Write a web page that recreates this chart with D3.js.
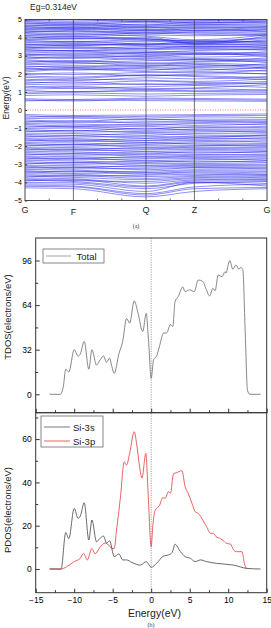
<!DOCTYPE html>
<html><head><meta charset="utf-8">
<style>body{margin:0;background:#fff}svg{display:block;font-family:"Liberation Sans",Arial,sans-serif}</style>
</head><body>
<script src="https://d3js.org/d3.v7.min.js"></script>
<script>
// k-path of the band structure
var kLabels = ["G", "F", "Q", "Z", "G"];
var kPos = [0, 2, 5, 7, 10];
var kMinor = [1, 3, 4, 6, 8, 9];
var bandTicks = [-5, -4, -3, -2, -1, 0, 1, 2, 3, 4, 5];

// band energies (eV) at G, F, Q, Z, G
var condBands = [
  [0.50,0.55,0.52,0.50,0.48],[0.56,0.50,0.60,0.58,0.54],[0.62,0.58,0.66,0.64,0.60],[0.80,0.84,0.76,0.82,0.86],
  [0.90,0.95,0.88,0.92,0.94],[0.98,1.02,1.04,1.03,1.00],[1.08,1.00,1.10,1.06,1.12],[1.15,1.20,1.12,1.18,1.08],
  [1.25,1.30,1.18,1.22,1.40],[1.32,1.22,1.28,1.35,1.25],[1.42,1.38,1.45,1.40,1.50],[1.48,1.55,1.40,1.45,1.58],
  [1.55,1.48,1.60,1.52,1.45],[1.62,1.70,1.65,1.58,1.72],[1.70,1.62,1.78,1.72,1.85],[1.80,1.75,1.92,1.85,1.68],
  [1.88,1.82,1.95,1.90,1.78],[1.95,2.05,1.88,1.98,2.02],[2.02,1.96,2.08,2.12,1.98],[2.10,2.25,2.12,2.05,2.20],
  [2.18,2.30,2.20,2.35,2.28],[2.25,2.35,2.28,2.20,2.38],[2.30,2.20,2.35,2.28,2.15],[2.36,2.45,2.40,2.48,2.32],
  [2.42,2.38,2.50,2.40,2.55],[2.50,2.55,2.60,2.52,2.42],[2.55,2.62,2.45,2.58,2.48],[2.62,2.72,2.58,2.65,2.70],
  [2.70,2.65,2.72,2.80,2.62],[2.76,2.70,2.85,2.78,2.74],[2.82,2.90,2.78,2.70,2.88],[2.88,2.95,2.92,2.85,2.80],
  [2.95,2.85,3.02,2.92,3.00],[3.00,3.05,2.95,3.08,3.10],[3.05,3.12,3.08,3.15,2.95],[3.10,3.02,3.18,3.12,3.05],
  [3.15,3.20,3.10,3.05,3.22],[3.22,3.30,3.25,3.20,3.15],[3.30,3.25,3.18,3.28,3.35],[3.34,3.28,3.42,3.35,3.40],
  [3.38,3.45,3.32,3.40,3.30],[3.44,3.50,3.40,3.52,3.45],[3.48,3.40,3.50,3.45,3.55],[3.52,3.58,3.62,3.58,3.60],
  [3.58,3.62,3.55,3.50,3.48],[3.62,3.68,3.60,3.66,3.58],[3.65,3.55,3.70,3.62,3.68],[3.72,3.80,3.65,3.75,3.78],
  [3.78,3.72,3.80,3.70,3.82],[3.85,3.78,3.88,3.82,3.72],[3.88,3.92,3.95,3.65,3.88],[3.92,3.98,3.85,3.78,3.95],
  [3.98,4.05,3.92,3.82,4.00],[4.05,3.95,4.02,3.70,4.08],[4.10,4.05,4.15,4.10,4.20],[4.12,4.18,4.08,3.88,4.15],
  [4.20,4.12,4.25,4.18,4.10],[4.25,4.22,4.30,4.25,4.18],[4.28,4.35,4.20,4.30,4.25],[4.32,4.40,4.30,4.40,4.32],
  [4.38,4.30,4.40,4.35,4.42],[4.42,4.45,4.48,4.40,4.50],[4.45,4.50,4.38,4.48,4.35],[4.50,4.58,4.45,4.55,4.45],
  [4.55,4.48,4.58,4.52,4.60],[4.60,4.55,4.65,4.65,4.62],[4.62,4.68,4.55,4.60,4.55],[4.68,4.75,4.62,4.70,4.75],
  [4.70,4.62,4.75,4.72,4.68],[4.78,4.82,4.70,4.85,4.80],[4.82,4.72,4.85,4.78,4.85],[4.88,4.80,4.90,4.82,4.92],
  [4.92,4.90,4.95,4.90,4.98],[4.95,4.98,4.88,4.95,4.90],[5.05,5.00,5.08,5.02,5.06],[5.15,5.10,5.12,5.18,5.10]
];
var valBands = [
  [-0.25,-0.30,-0.28,-0.26,-0.22],[-0.32,-0.40,-0.35,-0.32,-0.30],[-0.40,-0.35,-0.45,-0.38,-0.42],
  [-0.48,-0.45,-0.55,-0.50,-0.52],[-0.55,-0.62,-0.50,-0.58,-0.60],[-0.62,-0.70,-0.65,-0.62,-0.70],
  [-0.68,-0.60,-0.72,-0.70,-0.65],[-0.75,-0.78,-0.85,-0.75,-0.82],[-0.80,-0.88,-0.78,-0.85,-0.75],
  [-0.88,-0.95,-0.90,-0.98,-0.90],[-0.95,-0.90,-1.05,-0.92,-0.98],[-1.02,-1.00,-1.12,-1.05,-1.05],
  [-1.08,-1.15,-1.00,-1.10,-1.12],[-1.15,-1.22,-1.18,-1.15,-1.25],[-1.20,-1.12,-1.25,-1.22,-1.18],
  [-1.28,-1.30,-1.40,-1.30,-1.32],[-1.35,-1.40,-1.30,-1.38,-1.42],[-1.42,-1.50,-1.45,-1.52,-1.38],
  [-1.48,-1.42,-1.55,-1.45,-1.50],[-1.55,-1.58,-1.68,-1.55,-1.62],[-1.60,-1.68,-1.58,-1.62,-1.55],
  [-1.66,-1.75,-1.70,-1.68,-1.78],[-1.72,-1.65,-1.80,-1.75,-1.70],[-1.80,-1.82,-1.90,-1.82,-1.85],
  [-1.85,-1.92,-1.82,-1.88,-1.95],[-1.92,-2.00,-1.95,-1.95,-2.02],[-1.98,-1.90,-2.05,-2.00,-1.92],
  [-2.05,-2.08,-2.15,-2.06,-2.08],[-2.10,-2.18,-2.08,-2.12,-2.15],[-2.16,-2.25,-2.20,-2.18,-2.22],
  [-2.22,-2.15,-2.30,-2.25,-2.28],[-2.28,-2.32,-2.42,-2.32,-2.38],[-2.35,-2.40,-2.32,-2.38,-2.30],
  [-2.42,-2.50,-2.45,-2.45,-2.52],[-2.48,-2.42,-2.55,-2.50,-2.45],[-2.55,-2.58,-2.65,-2.56,-2.58],
  [-2.60,-2.68,-2.58,-2.62,-2.65],[-2.66,-2.75,-2.70,-2.68,-2.78],[-2.72,-2.65,-2.80,-2.75,-2.70],
  [-2.78,-2.82,-2.90,-2.82,-2.88],[-2.85,-2.92,-2.82,-2.88,-2.80],[-2.92,-3.00,-2.95,-2.95,-2.92],
  [-2.98,-2.90,-3.05,-3.00,-3.02],[-3.05,-3.08,-3.15,-3.06,-3.08],[-3.10,-3.18,-3.08,-3.12,-3.15],
  [-3.16,-3.25,-3.22,-3.18,-3.20],[-3.22,-3.15,-3.30,-3.20,-3.25],[-3.28,-3.32,-3.45,-3.36,-3.40],
  [-3.35,-3.42,-3.38,-3.30,-3.32],[-3.40,-3.50,-3.48,-3.48,-3.55],[-3.45,-3.38,-3.55,-3.42,-3.48],
  [-3.52,-3.55,-3.68,-3.62,-3.58],[-3.58,-3.65,-3.60,-3.55,-3.62],[-3.64,-3.72,-3.85,-3.74,-3.68],
  [-3.70,-3.62,-3.78,-3.68,-3.75],[-3.76,-3.80,-4.05,-3.86,-3.80],[-3.82,-3.90,-3.95,-3.80,-3.85],
  [-3.88,-3.95,-4.25,-3.98,-4.05],[-3.92,-3.85,-4.20,-3.92,-3.90],[-4.00,-4.02,-4.35,-4.05,-3.95],
  [-4.08,-4.10,-4.50,-4.00,-4.20],[-4.15,-4.20,-4.62,-4.25,-4.10],[-4.22,-4.25,-4.70,-4.35,-4.28],
  [-4.30,-4.35,-4.80,-4.50,-4.35]
];

// density of states, [energy eV, electrons/eV]
var totalDos = [[-13.2,0],[-11.8,0],[-11.4,6],[-11.1,18],[-10.7,16],[-10.0,32],[-9.5,27.5],[-9.2,29],[-8.7,38],
  [-8.1,18],[-7.7,32],[-7.1,21],[-6.6,25],[-6.2,27.5],[-5.8,23],[-5.4,26],[-5.2,22],[-4.8,15],[-4.2,29],
  [-3.7,38],[-3.2,54.5],[-2.8,51],[-2.2,67],[-1.7,58],[-1.1,45],[-0.65,58],[-0.35,39],[0,11.5],[0.3,24.6],
  [0.75,28],[1.1,35],[1.6,44],[2.0,44],[2.5,50],[2.8,48.6],[3.1,66.5],[3.5,70],[4.1,77],[4.4,73.7],[5.0,75],
  [5.6,73.7],[6.1,82],[6.7,81],[7.1,76],[7.6,70.6],[8.0,76],[8.3,74.4],[8.7,85.6],[9.2,84.4],[9.6,88],
  [9.7,87],[10.2,96],[10.6,89.7],[11.0,92.8],[11.4,89.7],[11.6,91],[11.9,89.7],[12.2,46],[12.5,3],[12.8,0],[14.2,0]];
var si3s = [[-13.2,0],[-11.7,0],[-11.1,16.8],[-10.7,14],[-10.0,28],[-9.5,23.4],[-9.2,24.5],[-8.7,30.6],[-8.1,13.4],
  [-7.7,22.6],[-7.1,12.6],[-6.7,14],[-6.2,15.2],[-5.8,12],[-5.4,13],[-4.8,5.7],[-4.2,7],[-3.7,4.2],[-3.2,4.2],
  [-2.5,3],[-1.4,1.8],[-0.65,3.4],[0,0.8],[0.7,2.6],[1.6,6],[2.25,6.5],[2.7,7.5],[3.1,11.4],[3.8,8],[4.4,5.7],
  [5.1,4.9],[5.7,3.4],[6.4,4.2],[7.2,3.4],[8.5,2.6],[10.7,1.8],[12.4,0.3],[14.2,0]];
var si3p = [[-13.2,0],[-11.7,0],[-11.0,1],[-10.0,3.4],[-9.2,5],[-8.8,7.2],[-8.3,4.2],[-7.7,9.5],[-7.3,7],[-6.6,10.3],
  [-6.0,12],[-5.5,11],[-5.1,9.5],[-4.8,9.5],[-4.5,18],[-4.0,33],[-3.5,49.5],[-3.2,48],[-2.8,53.4],[-2.2,63.4],
  [-1.9,58],[-1.5,47],[-1.2,42],[-0.7,53.4],[-0.4,35],[0,10.3],[0.2,19.5],[0.5,27],[1.1,29.5],[1.5,33],[1.8,32.6],
  [2.25,35.7],[2.5,35],[2.9,44],[3.3,44.5],[4.0,45.4],[4.4,38],[4.8,35],[5.3,30.3],[5.7,26.5],[6.1,25.7],[6.7,22.6],
  [7.2,19.5],[7.7,16.5],[8.1,16.5],[8.4,15],[9.0,14],[9.4,13],[9.8,11.8],[10.3,11.5],[10.7,8.8],[11.1,8],
  [11.8,8],[12.1,2.6],[12.4,0]];

var energyTicks = [-15, -10, -5, 0, 5, 10, 15];
var energyMinor = [-12.5, -7.5, -2.5, 2.5, 7.5, 12.5];
var tdosTicks = [0, 32, 64, 96];
var tdosMinor = [16, 48, 80];
var pdosTicks = [0, 20, 40, 60];
var pdosMinor = [10, 30, 50, 70];

var svg = d3.select("body").append("svg").attr("width", 271).attr("height", 628);
svg.append("rect").attr("width", 271).attr("height", 628).attr("fill", "#fff");

// ---------- (a) band structure ----------
var bx = d3.scaleLinear().domain([0, 10]).range([25, 267]);
var by = d3.scaleLinear().domain([-5, 5]).range([200.5, 19.5]);

svg.append("clipPath").attr("id", "bclip").append("rect")
    .attr("x", 25).attr("y", 19.5).attr("width", 242).attr("height", 181);

var bandLine = d3.line().x((d, i) => bx(kPos[i])).y(d => by(d)).curve(d3.curveMonotoneX);
svg.append("g").attr("clip-path", "url(#bclip)")
  .selectAll("path").data(condBands.concat(valBands)).enter().append("path")
    .attr("d", bandLine).attr("fill", "none")
    .attr("stroke", "#1a1ae6").attr("stroke-width", 0.9).attr("stroke-opacity", 0.55);

svg.append("line").attr("x1", 25).attr("x2", 267).attr("y1", by(0)).attr("y2", by(0))
    .attr("stroke", "#e33").attr("stroke-width", 0.6).attr("stroke-dasharray", "1,1.5");

svg.selectAll(".ksep").data(kPos.slice(1, 4)).enter().append("line")
    .attr("x1", d => bx(d)).attr("x2", d => bx(d)).attr("y1", 19.5).attr("y2", 200.5)
    .attr("stroke", "#333").attr("stroke-width", 0.7);

[[200.5, -2], [19.5, 2]].forEach(function(a) {
  svg.selectAll(null).data(kMinor).enter().append("line")
      .attr("x1", d => bx(d)).attr("x2", d => bx(d)).attr("y1", a[0]).attr("y2", a[0] + a[1])
      .attr("stroke", "#333").attr("stroke-width", 0.7);
});

var bAxis = svg.append("g").attr("transform", "translate(25,0)")
    .call(d3.axisLeft(by).tickValues(bandTicks).tickSize(-2).tickPadding(3).tickFormat(d3.format("d")));
bAxis.attr("font-family", null).attr("font-size", 7);
bAxis.select(".domain").remove();
bAxis.selectAll("line").attr("stroke", "#333");

svg.append("rect").attr("x", 25).attr("y", 19.5).attr("width", 242).attr("height", 181)
    .attr("fill", "none").attr("stroke", "#444").attr("stroke-width", 1);

svg.selectAll(".klab").data(kLabels).enter().append("text")
    .attr("x", (d, i) => bx(kPos[i])).attr("y", (d, i) => i === 1 ? 215 : 213)
    .attr("text-anchor", "middle").attr("font-size", 9).attr("fill", "#222").text(d => d);

svg.append("text").attr("x", 30).attr("y", 10).attr("font-size", 8.5).attr("fill", "#222").text("Eg=0.314eV");
svg.append("text").attr("transform", "translate(8.5,98) rotate(-90)").attr("text-anchor", "middle")
    .attr("font-size", 8.5).attr("fill", "#222").text("Energy(eV)");
svg.append("text").attr("x", 136).attr("y", 228).attr("text-anchor", "middle")
    .attr("font-family", "Liberation Serif").attr("font-size", 6).attr("fill", "#333").text("(a)");

// ---------- (b) density of states ----------
var ex = d3.scaleLinear().domain([-15, 15]).range([35.7, 266.7]);
var ty = d3.scaleLinear().domain([0, 96]).range([394.3, 260.5]);
var py = d3.scaleLinear().domain([0, 60]).range([569, 439.1]);
var tTop = 238, mid = 412.7, pBot = 592.7;

function dosLine(yScale) {
  return d3.line().x(d => ex(d[0])).y(d => yScale(d[1])).curve(d3.curveMonotoneX);
}
svg.append("path").datum(totalDos).attr("d", dosLine(ty)).attr("fill", "none")
    .attr("stroke", "#6a6a6a").attr("stroke-width", 0.8);
svg.append("path").datum(si3p).attr("d", dosLine(py)).attr("fill", "none")
    .attr("stroke", "#e23b3b").attr("stroke-width", 0.8);
svg.append("path").datum(si3s).attr("d", dosLine(py)).attr("fill", "none")
    .attr("stroke", "#444").attr("stroke-width", 0.8);

svg.append("line").attr("x1", ex(0)).attr("x2", ex(0)).attr("y1", tTop).attr("y2", pBot)
    .attr("stroke", "#777").attr("stroke-width", 0.7).attr("stroke-dasharray", "1.2,1.2");

function yAxes(scale, major, minor) {
  var g = svg.append("g").attr("transform", "translate(35.7,0)")
      .call(d3.axisLeft(scale).tickValues(major).tickSize(-4).tickPadding(4));
  g.attr("font-family", null).attr("font-size", 8.5);
  g.select(".domain").remove();
  var m = svg.append("g").attr("transform", "translate(35.7,0)")
      .call(d3.axisLeft(scale).tickValues(minor).tickSize(-2.5).tickFormat(""));
  m.select(".domain").remove();
  svg.selectAll("g line").attr("stroke", "#333");
}
yAxes(ty, tdosTicks, tdosMinor);
yAxes(py, pdosTicks, pdosMinor);

function xAxes(y0, labels) {
  var g = svg.append("g").attr("transform", "translate(0," + y0 + ")")
      .call(d3.axisBottom(ex).tickValues(energyTicks).tickSize(-4).tickPadding(4)
        .tickFormat(labels ? d3.format("d") : ""));
  g.attr("font-family", null).attr("font-size", 8.5);
  g.select(".domain").remove();
  var m = svg.append("g").attr("transform", "translate(0," + y0 + ")")
      .call(d3.axisBottom(ex).tickValues(energyMinor).tickSize(-2.5).tickFormat(""));
  m.select(".domain").remove();
  svg.selectAll("g line").attr("stroke", "#333");
}
xAxes(mid, false);
xAxes(pBot, true);

svg.append("rect").attr("x", 35.7).attr("y", tTop).attr("width", 231).attr("height", mid - tTop)
    .attr("fill", "none").attr("stroke", "#333").attr("stroke-width", 1);
svg.append("rect").attr("x", 35.7).attr("y", mid).attr("width", 231).attr("height", pBot - mid)
    .attr("fill", "none").attr("stroke", "#333").attr("stroke-width", 1);

// legends
svg.append("rect").attr("x", 43).attr("y", 249).attr("width", 61).attr("height", 14)
    .attr("fill", "#fff").attr("stroke", "#555").attr("stroke-width", 0.7);
svg.append("line").attr("x1", 46).attr("x2", 71).attr("y1", 256).attr("y2", 256)
    .attr("stroke", "#8a8a8a").attr("stroke-width", 0.8);
svg.append("text").attr("x", 76.5).attr("y", 259.5).attr("font-size", 9.5).attr("fill", "#222").text("Total");

svg.append("rect").attr("x", 41).attr("y", 416).attr("width", 62).attr("height", 31)
    .attr("fill", "#fff").attr("stroke", "#555").attr("stroke-width", 0.7);
var pLeg = [["Si-3s", "#555"], ["Si-3p", "#e23b3b"]];
svg.selectAll(".pleg").data(pLeg).enter().append("line")
    .attr("x1", 44).attr("x2", 70).attr("y1", (d, i) => 427 + i * 14).attr("y2", (d, i) => 427 + i * 14)
    .attr("stroke", d => d[1]).attr("stroke-width", 0.8);
svg.selectAll(".pleg-t").data(pLeg).enter().append("text")
    .attr("x", 73).attr("y", (d, i) => 430.5 + i * 14).attr("font-size", 9.5).attr("fill", "#222").text(d => d[0]);

// axis titles
svg.append("text").attr("transform", "translate(10.5,317) rotate(-90)").attr("text-anchor", "middle")
    .attr("font-size", 9.5).attr("fill", "#222").text("TDOS(electrons/eV)");
svg.append("text").attr("transform", "translate(10.5,510) rotate(-90)").attr("text-anchor", "middle")
    .attr("font-size", 9.5).attr("fill", "#222").text("PDOS(electrons/eV)");
svg.append("text").attr("x", 154.5).attr("y", 616.5).attr("text-anchor", "middle")
    .attr("font-size", 10.5).attr("fill", "#222").text("Energy(eV)");
svg.append("text").attr("x", 151).attr("y", 626.5).attr("text-anchor", "middle")
    .attr("font-family", "Liberation Serif").attr("font-size", 6).attr("fill", "#333").text("(b)");
</script>
</body></html>
